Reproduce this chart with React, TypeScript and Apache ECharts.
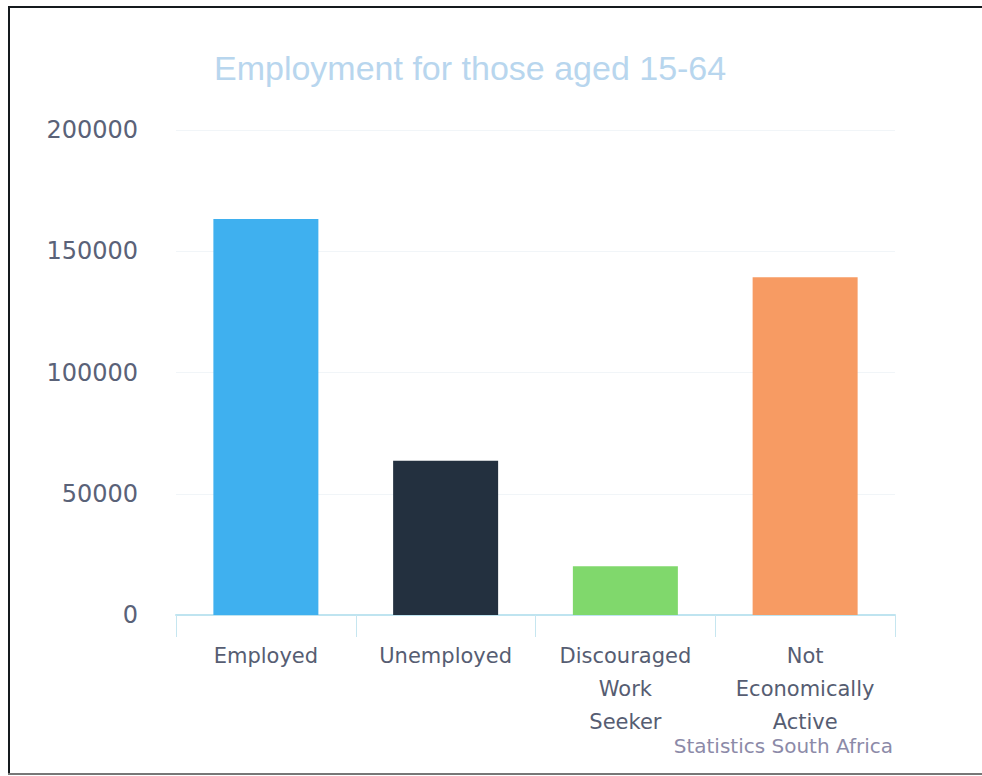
import React, { useEffect, useRef } from "react";
import * as echarts from "echarts";

const categories = ["Employed", "Unemployed", "Discouraged\nWork\nSeeker", "Not\nEconomically\nActive"];
const values = [163300, 63600, 20100, 139300];
const barColors = ["#3fb0ef", "#23303f", "#80d86c", "#f79b63"];
const titleText = "Employment for those aged 15-64";
const creditText = "Statistics South Africa";

export default function App() {
  const ref = useRef<HTMLDivElement>(null);
  useEffect(() => {
    if (!ref.current) return;
    const chart = echarts.init(ref.current, null, { renderer: "svg" });
    chart.setOption({
      animation: false,
      backgroundColor: "#ffffff",
      title: {
        text: titleText,
        left: 209,
        top: 46,
        textStyle: {
          fontFamily: "Liberation Sans",
          fontSize: 34,
          fontWeight: "normal",
          color: "#b8d6ee",
        },
      },
      grid: { left: 176, right: 87, top: 130, bottom: 161 },
      xAxis: {
        type: "category",
        data: categories,
        axisLine: { lineStyle: { color: "#bfe4f0", width: 2 } },
        axisTick: { show: true, length: 22, lineStyle: { color: "#c6e6f0", width: 1 } },
        axisLabel: {
          margin: 24,
          fontFamily: "DejaVu Sans",
          fontSize: 21,
          lineHeight: 33,
          color: "#565d72",
          interval: 0,
        },
      },
      yAxis: {
        type: "value",
        min: 0,
        max: 200000,
        interval: 50000,
        axisLine: { show: false },
        axisTick: { show: false },
        splitLine: { lineStyle: { color: "#f1f5f8" } },
        axisLabel: {
          margin: 38,
          fontFamily: "DejaVu Sans",
          fontSize: 24,
          color: "#5a6278",
          formatter: (v: number) => String(v),
        },
      },
      series: [
        {
          type: "bar",
          barWidth: 105,
          data: values.map((v, i) => ({ value: v, itemStyle: { color: barColors[i] } })),
        },
      ],
      graphic: [
        {
          type: "text",
          right: 89,
          top: 736,
          style: {
            text: creditText,
            fontFamily: "DejaVu Sans",
            fontSize: 20,
            fill: "#8c8aa8",
          },
        },
        { type: "line", shape: { x1: 9, y1: 7, x2: 9, y2: 775 }, style: { stroke: "#151a1e", lineWidth: 2 } },
        { type: "line", shape: { x1: 8, y1: 7, x2: 982, y2: 7 }, style: { stroke: "#151a1e", lineWidth: 2 } },
        { type: "line", shape: { x1: 8, y1: 774, x2: 982, y2: 774 }, style: { stroke: "#777777", lineWidth: 2 } },
      ],
    });
    return () => chart.dispose();
  }, []);
  return (
    <div
      ref={ref}
      style={{ position: "fixed", left: 0, top: 0, width: 982, height: 776 }}
    />
  );
}
